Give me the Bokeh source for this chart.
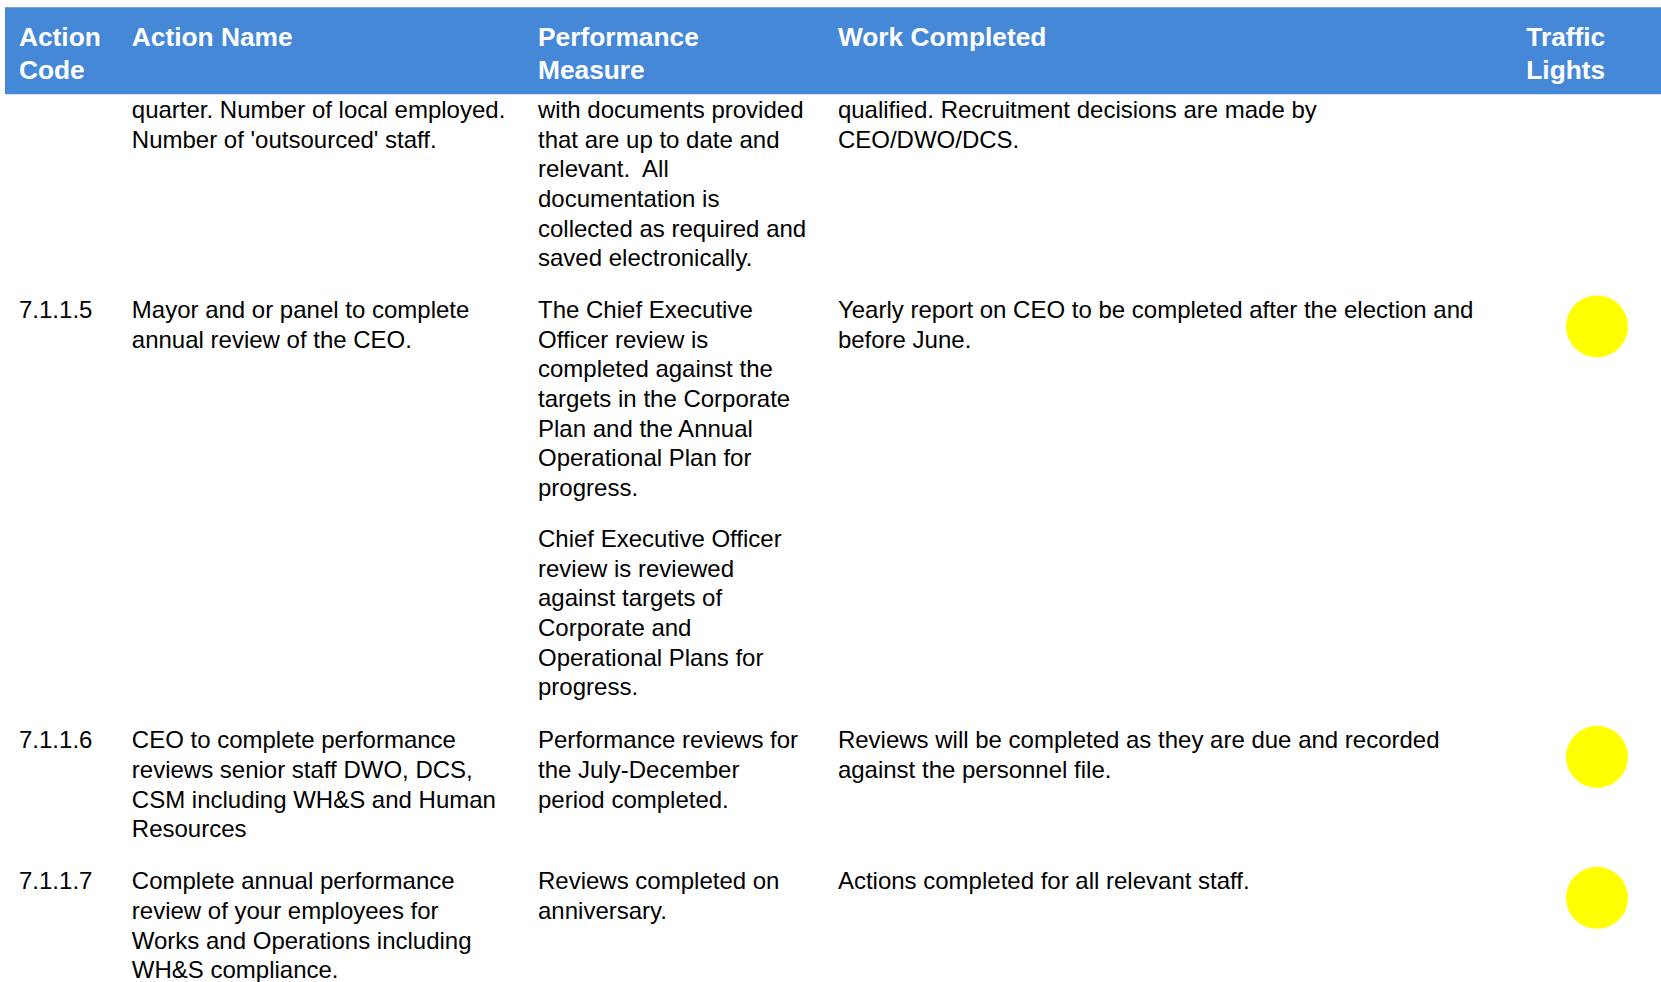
from bokeh.plotting import figure
from bokeh.models import Range1d, ColumnDataSource
from bokeh.core.properties import value
from bokeh.embed import file_html
from bokeh.resources import INLINE

# ---------------- data ----------------
header_titles = [["Action", "Code"], ["Action Name"], ["Performance", "Measure"],
                 ["Work Completed"], ["Traffic", "Lights"]]

action_codes = ["", "7.1.1.5", "7.1.1.6", "7.1.1.7"]

action_names = [
    [["quarter. Number of local employed.", "Number of 'outsourced' staff."]],
    [["Mayor and or panel to complete", "annual review of the CEO."]],
    [["CEO to complete performance", "reviews senior staff DWO, DCS,",
      "CSM including WH&S and Human", "Resources"]],
    [["Complete annual performance", "review of your employees for",
      "Works and Operations including", "WH&S compliance."]],
]

performance_measures = [
    [["with documents provided", "that are up to date and", "relevant.\u00a0 All",
      "documentation is", "collected as required and", "saved electronically."]],
    [["The Chief Executive", "Officer review is", "completed against the",
      "targets in the Corporate", "Plan and the Annual", "Operational Plan for", "progress."],
     ["Chief Executive Officer", "review is reviewed", "against targets of",
      "Corporate and", "Operational Plans for", "progress."]],
    [["Performance reviews for", "the July-December", "period completed."]],
    [["Reviews completed on", "anniversary."]],
]

work_completed = [
    [["qualified. Recruitment decisions are made by", "CEO/DWO/DCS."]],
    [["Yearly report on CEO to be completed after the election and", "before June."]],
    [["Reviews will be completed as they are due and recorded",
      "against the personnel file."]],
    [["Actions completed for all relevant staff."]],
]

traffic_lights = [None, "#FFFF00", "#FFFF00", "#FFFF00"]

# ---------------- layout ----------------
W, H = 1661, 982
col_x = [18.5, 131.3, 537.5, 837.4, 1525.8]
light_x = 1596.5
light_dy = 17.0
row_first_baseline = [108.8, 308.9, 739.3, 880.3]
line_h = 29.7
para_gap = 21.0
header_baselines = [36.0, 69.3]
header_color = "#4688D8"
FONT = "Liberation Sans"

p = figure(width=W, height=H, output_backend="svg", toolbar_location=None,
           x_range=Range1d(0, W), y_range=Range1d(H, 0),
           min_border=0, background_fill_color="white", border_fill_color="white")
p.axis.visible = False
p.grid.visible = False
p.outline_line_color = None

# header band
p.quad(left=[4.5], right=[W + 5], top=[6.7], bottom=[93.8],
       fill_color=header_color, line_color=None)

hx, hy, ht = [], [], []
for ci, lines in enumerate(header_titles):
    for li, t in enumerate(lines):
        hx.append(col_x[ci]); hy.append(header_baselines[li]); ht.append(t)
p.text(x="x", y="y", text="t", source=ColumnDataSource(dict(x=hx, y=hy, t=ht)),
       text_font=value(FONT), text_font_size="26.3px", text_font_style="bold",
       text_color="white", text_baseline="alphabetic", text_align="left")

bx, by, bt = [], [], []

def add_cell(ci, ri, paras):
    y = row_first_baseline[ri]
    for pi, para in enumerate(paras):
        if pi > 0:
            y += para_gap
        for t in para:
            bx.append(col_x[ci]); by.append(y); bt.append(t)
            y += line_h

for ri in range(len(action_codes)):
    if action_codes[ri]:
        add_cell(0, ri, [[action_codes[ri]]])
    add_cell(1, ri, action_names[ri])
    add_cell(2, ri, performance_measures[ri])
    add_cell(3, ri, work_completed[ri])

p.text(x="x", y="y", text="t", source=ColumnDataSource(dict(x=bx, y=by, t=bt)),
       text_font=value(FONT), text_font_size="24px", text_color="black",
       text_baseline="alphabetic", text_align="left")

lx, ly, lc = [], [], []
for ri, c in enumerate(traffic_lights):
    if c:
        lx.append(light_x); ly.append(row_first_baseline[ri] + light_dy); lc.append(c)
p.scatter(x="x", y="y", color="c", source=ColumnDataSource(dict(x=lx, y=ly, c=lc)),
          size=62, line_color=None)

open("out.html", "w").write(file_html(p, INLINE))
